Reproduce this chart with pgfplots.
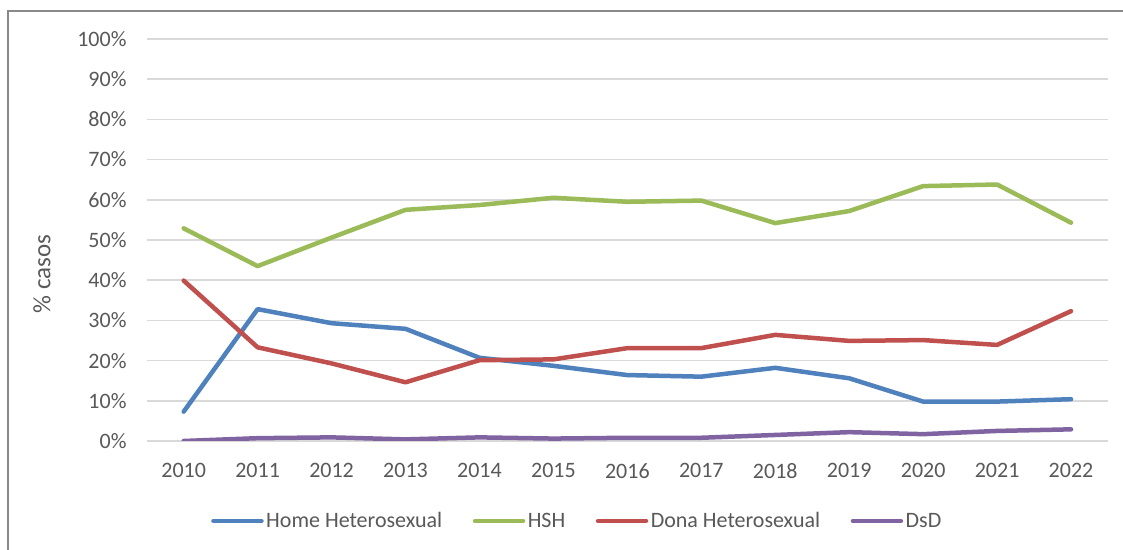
\documentclass[border=0pt]{standalone}
\usepackage{pgfplots}
\pgfplotsset{compat=1.18}
\usepackage{fontspec}
\setmainfont{Carlito}
\definecolor{cblue}{HTML}{4F81BD}
\definecolor{cgreen}{HTML}{9BBB59}
\definecolor{cred}{HTML}{C0504D}
\definecolor{cpurple}{HTML}{8064A2}
\definecolor{txtgray}{HTML}{595959}
\definecolor{gridgray}{HTML}{D9D9D9}
\definecolor{framegray}{HTML}{898989}
\begin{document}
\begin{tikzpicture}[x=1bp,y=1bp]
\useasboundingbox (0,0) rectangle (1123,550);
\fill[white] (0,0) rectangle (1123,550);
\begin{axis}[
  scale only axis,
  width=961.3bp, height=402bp,
  at={(146.7bp,109bp)}, anchor=south west,
  xmin=-0.5, xmax=12.5,
  ymin=0, ymax=100,
  xtick={0,...,12},
  xticklabels={2010,2011,2012,2013,2014,2015,2016,2017,2018,2019,2020,2021,2022},
  ytick={0,10,...,100},
  yticklabel={\pgfmathprintnumber{\tick}\%},
  /pgf/number format/assume math mode=true,
  axis line style={draw=none},
  major tick length=0pt,
  ymajorgrids,
  grid style={gridgray, line width=1.5bp},
  tick label style={font=\fontsize{22bp}{26bp}\selectfont, text=txtgray},
  yticklabel style={anchor=east, inner sep=0pt, xshift=-20bp},
  xticklabel style={anchor=center, inner sep=0pt, yshift=-29.7bp},
  legend columns=4,
  legend style={draw=none, fill=none, at={(0.4482,-0.199)}, anchor=center,
    font=\fontsize{22bp}{26bp}\selectfont, text=txtgray,
    nodes={inner sep=2.5bp},
    /tikz/every even column/.append style={column sep=28bp}},
  legend image code/.code={\draw[#1, line cap=round] (0bp,0bp) -- (48bp,0bp);},
  every axis plot/.append style={line width=4.5bp, line join=round, line cap=round, mark=none},
]
\addplot[cblue] coordinates {(0,7.3) (1,32.8) (2,29.3) (3,27.9) (4,20.7) (5,18.7) (6,16.4) (7,16.0) (8,18.2) (9,15.6) (10,9.8) (11,9.8) (12,10.4)};
\addlegendentry{Home Heterosexual}
\addplot[cgreen] coordinates {(0,52.9) (1,43.5) (2,50.6) (3,57.5) (4,58.7) (5,60.5) (6,59.5) (7,59.8) (8,54.2) (9,57.2) (10,63.4) (11,63.8) (12,54.3)};
\addlegendentry{HSH}
\addplot[cred] coordinates {(0,39.9) (1,23.3) (2,19.3) (3,14.6) (4,20.1) (5,20.3) (6,23.1) (7,23.1) (8,26.4) (9,24.9) (10,25.1) (11,23.9) (12,32.3)};
\addlegendentry{Dona Heterosexual}
\addplot[cpurple] coordinates {(0,0.0) (1,0.7) (2,0.9) (3,0.4) (4,0.9) (5,0.6) (6,0.8) (7,0.8) (8,1.5) (9,2.2) (10,1.7) (11,2.5) (12,2.9)};
\addlegendentry{DsD}
\end{axis}
\node[rotate=90, text=txtgray, font=\fontsize{25bp}{30bp}\selectfont, inner sep=0pt] at (42,276) {\% casos};
\draw[framegray, line width=2bp] (8,-5) -- (8,539) -- (1130,539);
\end{tikzpicture}
\end{document}
